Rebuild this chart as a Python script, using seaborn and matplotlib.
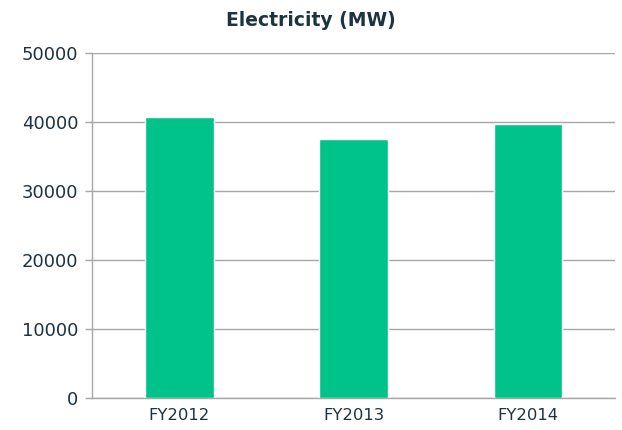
import matplotlib
matplotlib.use("Agg")
import matplotlib.pyplot as plt
import seaborn as sns
import pandas as pd

categories = ["FY2012", "FY2013", "FY2014"]
values = [40700, 37550, 39700]

sns.set_theme(style="white")
plt.rcParams['font.family'] = ['DejaVu Sans']

df = pd.DataFrame({"year": categories, "mw": values})

fig = plt.figure(figsize=(6.22, 4.30), dpi=100)
ax = fig.add_axes([0.148, 0.074, 0.841, 0.803])

sns.barplot(data=df, x="year", y="mw", color="#00C389", width=0.395,
            saturation=1, ax=ax, zorder=3)

text_color = "#1C3341"
grid_color = "#A6A6A6"

ax.set_ylim(0, 50000)
ax.set_xlim(-0.5, 2.5)
ax.set_yticks([0, 10000, 20000, 30000, 40000, 50000])
ax.yaxis.grid(True, color=grid_color, linewidth=1.0, zorder=0)
ax.set_axisbelow(True)
ax.set_xlabel("")
ax.set_ylabel("")

for s in ["top", "right"]:
    ax.spines[s].set_visible(False)
for s in ["left", "bottom"]:
    ax.spines[s].set_color(grid_color)
    ax.spines[s].set_linewidth(1.0)

ax.set_xticks([-0.5, 0.5, 1.5, 2.5], minor=True)
ax.tick_params(axis="x", which="major", length=0, pad=7, labelsize=11.8, labelcolor=text_color)
ax.tick_params(axis="x", which="minor", length=5, color=grid_color, width=1.0, direction="out")
ax.tick_params(axis="y", which="major", length=5, color=grid_color, width=1.0, direction="out",
               pad=5, labelsize=13, labelcolor=text_color, left=True)

fig.suptitle("Electricity (MW)", y=0.975, fontsize=13.5, color=text_color, fontweight="bold")

fig.savefig("out.png", dpi=100)
